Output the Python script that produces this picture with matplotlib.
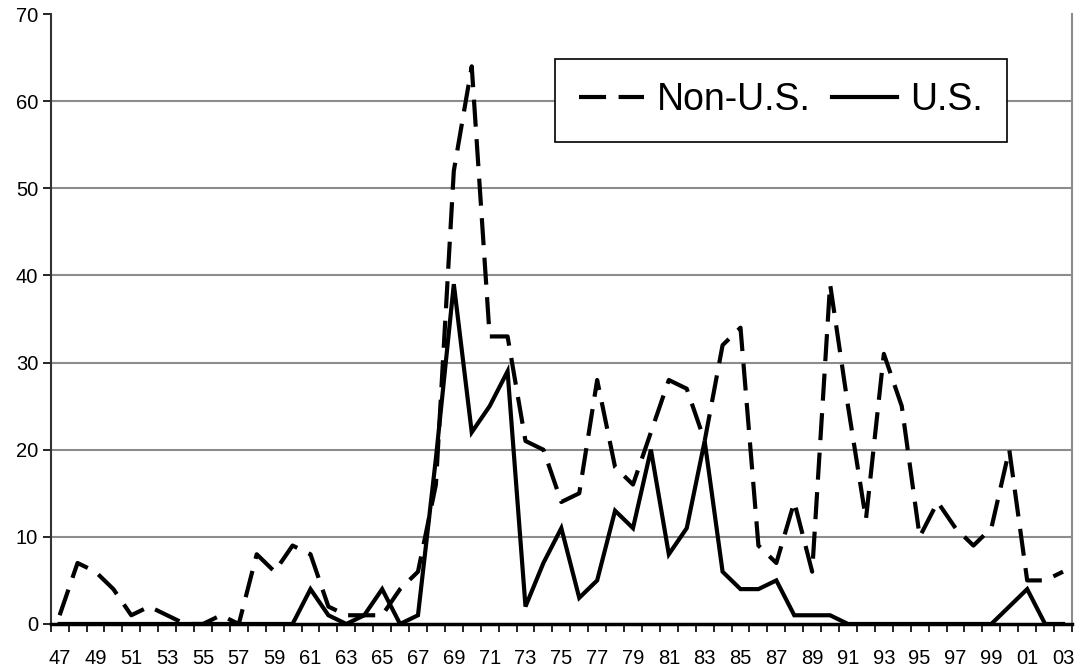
import numpy as np
import matplotlib
matplotlib.use('Agg')
import matplotlib.pyplot as plt

years = [f"{y % 100:02d}" for y in range(1947, 2004)]

non_us = [1, 7, 6, 4, 1, 2, 1, 0, 0, 1, 0, 8, 6, 9, 8, 2, 1, 1, 1, 4,
          6, 16, 52, 64, 33, 33, 21, 20, 14, 15, 28, 18, 16, 22, 28, 27, 21, 32,
          34, 9, 7, 14, 6, 39, 25, 12, 31, 25, 10, 14, 11, 9, 11, 20, 5, 5, 6]

us = [0, 0, 0, 0, 0, 0, 0, 0, 0, 0, 0, 0, 0, 0, 4, 1, 0, 1, 4, 0,
      1, 19, 39, 22, 25, 29, 2, 7, 11, 3, 5, 13, 11, 20, 8, 11, 21, 6,
      4, 4, 5, 1, 1, 1, 0, 0, 0, 0, 0, 0, 0, 0, 0, 2, 4, 0, 0]

plt.rcParams['font.family'] = ['Liberation Sans', 'DejaVu Sans']

fig = plt.figure(figsize=(10.85, 6.69), dpi=100)
ax = fig.add_axes([0.0467, 0.0673, 0.9413, 0.9117])

x = np.arange(len(years))
ax.plot(x, non_us, color='black', lw=3, dashes=(6.5, 3), label='Non-U.S.',
        solid_joinstyle='miter', dash_capstyle='butt')
ax.plot(x, us, color='black', lw=3, label='U.S.', solid_joinstyle='miter')

ax.set_xlim(-0.5, len(years) - 0.5)
ax.set_ylim(0, 70)
ax.set_yticks(range(0, 71, 10))
ax.set_xticks(x[::2])
ax.set_xticklabels(years[::2])
ax.set_xticks(np.arange(-0.5, len(years), 1), minor=True)
ax.tick_params(axis='x', which='major', length=0, labelsize=14.5, pad=18)
ax.tick_params(axis='x', which='minor', length=6, width=1.2, direction='out')
ax.tick_params(axis='y', length=6, width=1.2, labelsize=14.5, pad=3)

for v in range(10, 70, 10):
    ax.axhline(v, color='#8c8c8c', lw=1.5, zorder=0)

ax.spines['top'].set_visible(False)
ax.spines['right'].set_color('#8c8c8c')
ax.spines['right'].set_linewidth(1.5)
ax.spines['left'].set_color('#333333')
ax.spines['left'].set_linewidth(1.5)
ax.spines['bottom'].set_linewidth(2.5)

leg = ax.legend(loc='upper right', bbox_to_anchor=(0.936, 0.926), ncol=2,
                fontsize=27, frameon=True, fancybox=False, borderaxespad=0,
                handlelength=1.75, handletextpad=0.35, columnspacing=0.55,
                borderpad=0.62)
leg.get_frame().set_edgecolor('black')
leg.get_frame().set_linewidth(1.2)
leg.get_frame().set_alpha(1)

fig.savefig('out.png', dpi=100)
